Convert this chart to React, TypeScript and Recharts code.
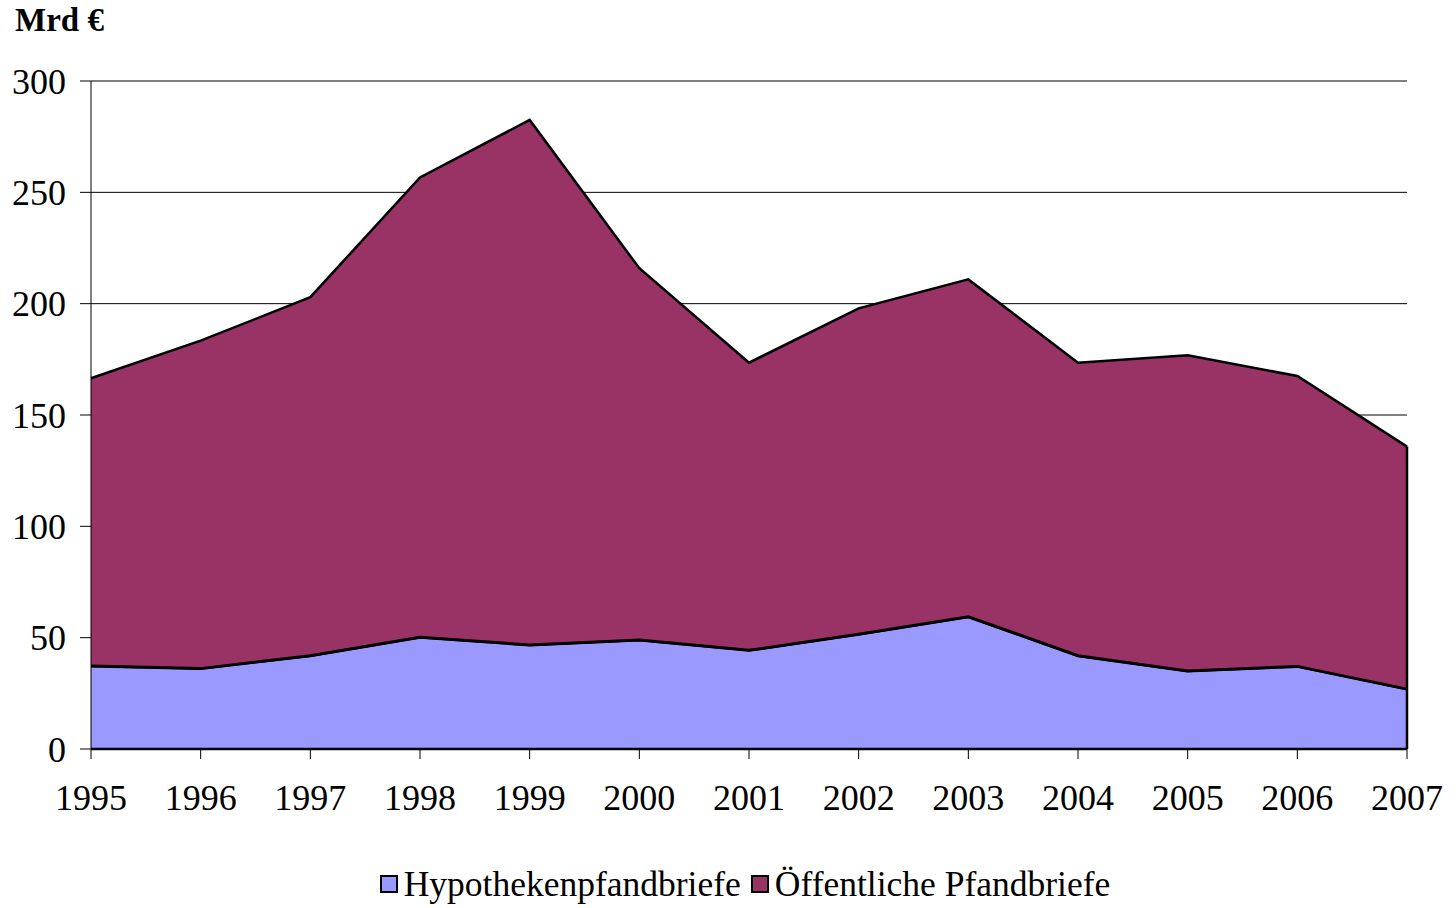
import React from "react";
import { ComposedChart, Area, Line, XAxis, YAxis, CartesianGrid, ReferenceLine } from "recharts";

const years = ["1995", "1996", "1997", "1998", "1999", "2000", "2001", "2002", "2003", "2004", "2005", "2006", "2007"];
const hypothekenpfandbriefe = [37.3, 36.1, 41.9, 50.2, 46.7, 49.0, 44.3, 51.5, 59.4, 41.9, 35.0, 37.1, 26.9];
const oeffentlichePfandbriefe = [129.2, 147.3, 161.0, 206.5, 235.8, 166.9, 129.2, 146.4, 151.5, 131.6, 141.8, 130.4, 108.9];
const yTicks = [0, 50, 100, 150, 200, 250, 300];

const seriesNames = ["Hypothekenpfandbriefe", "Öffentliche Pfandbriefe"];
const seriesColors = ["#9999FF", "#993366"];

const data = years.map((y, i) => ({
  year: y,
  hypo: hypothekenpfandbriefe[i],
  oeff: oeffentlichePfandbriefe[i],
}));

const lastIdx = years.length - 1;
const lastTotal = hypothekenpfandbriefe[lastIdx] + oeffentlichePfandbriefe[lastIdx];

const FONT = "'Liberation Serif', 'Times New Roman', serif";

const LegendBox = () => (
  <div
    style={{
      position: "absolute",
      left: 0,
      top: 864,
      width: 1490,
      display: "flex",
      justifyContent: "center",
      alignItems: "center",
      fontFamily: FONT,
      fontSize: 35.5,
      lineHeight: "40px",
      color: "#000",
      whiteSpace: "nowrap",
    }}
  >
    {seriesNames.map((n, i) => (
      <span key={n} style={{ display: "inline-flex", alignItems: "center", marginRight: i === 0 ? 10 : 0 }}>
        <span
          style={{
            display: "inline-block",
            width: 14,
            height: 14,
            background: seriesColors[i],
            border: "2px solid #000",
            marginRight: 6,
          }}
        />
        {n}
      </span>
    ))}
  </div>
);

export default function App() {
  return (
    <div style={{ position: "absolute", left: 0, top: 0, width: 1456, height: 908, background: "#fff" }}>
      <div
        style={{
          position: "absolute",
          left: 15,
          top: 2,
          fontFamily: FONT,
          fontWeight: "bold",
          fontSize: 33,
          color: "#000",
        }}
      >
        Mrd €
      </div>
      <ComposedChart
        width={1456}
        height={908}
        data={data}
        margin={{ top: 81, right: 49, left: 0, bottom: 0 }}
      >
        <CartesianGrid horizontal vertical={false} stroke="#000" strokeWidth={1} />
        <XAxis
          dataKey="year"
          height={159}
          tickSize={10}
          tickMargin={25}
          axisLine={{ stroke: "#000", strokeWidth: 1 }}
          tickLine={{ stroke: "#000" }}
          tick={{ fill: "#000", fontFamily: FONT, fontSize: 36 }}
          interval={0}
        />
        <YAxis
          width={91}
          domain={[0, 300]}
          ticks={yTicks}
          tickSize={11}
          tickMargin={14}
          axisLine={{ stroke: "#000", strokeWidth: 1 }}
          tickLine={{ stroke: "#000" }}
          tick={{ fill: "#000", fontFamily: FONT, fontSize: 36 }}
          interval={0}
        />
        <Area
          type="linear"
          dataKey="hypo"
          name={seriesNames[0]}
          stackId="1"
          fill={seriesColors[0]}
          fillOpacity={1}
          stroke="#000"
          strokeWidth={2.5}
          isAnimationActive={false}
        />
        <Area
          type="linear"
          dataKey="oeff"
          name={seriesNames[1]}
          stackId="1"
          fill={seriesColors[1]}
          fillOpacity={1}
          stroke="#000"
          strokeWidth={2.5}
          isAnimationActive={false}
        />
        <Line
          type="linear"
          dataKey="hypo"
          stroke="#000"
          strokeWidth={3}
          dot={false}
          activeDot={false}
          legendType="none"
          isAnimationActive={false}
        />
        <ReferenceLine
          segment={[
            { x: years[lastIdx], y: 0 },
            { x: years[lastIdx], y: lastTotal },
          ]}
          stroke="#000"
          strokeWidth={2.5}
        />
        <ReferenceLine y={0} stroke="#000" strokeWidth={2.5} />
      </ComposedChart>
      <LegendBox />
    </div>
  );
}
